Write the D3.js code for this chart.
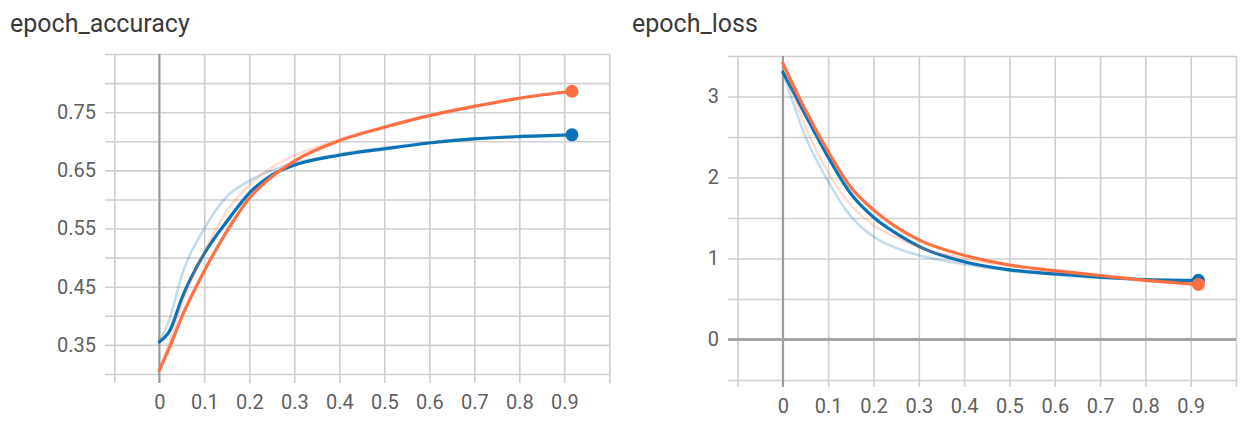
<!DOCTYPE html>
<html>
<head>
<meta charset="utf-8">
<script src="https://cdn.jsdelivr.net/npm/d3@7"></script>
<style>
  body { margin: 0; background: #fff; }
  svg text { font-family: Roboto, "Noto Sans", sans-serif; }
</style>
</head>
<body>
<svg id="chart" width="1243" height="423"></svg>
<script>
// ---- data ----
var accStep = [0, 0.025, 0.05, 0.1, 0.15, 0.2, 0.25, 0.3, 0.4, 0.5, 0.6, 0.7, 0.8, 0.917];
var accBlueSmooth   = [0.355, 0.377, 0.43, 0.507, 0.562, 0.611, 0.642, 0.659, 0.676, 0.687, 0.697, 0.704, 0.708, 0.711];
var accOrangeSmooth = [0.306, 0.35, 0.398, 0.477, 0.545, 0.602, 0.639, 0.666, 0.701, 0.724, 0.744, 0.760, 0.774, 0.786];
var accBlueRaw      = [0.355, 0.40, 0.47, 0.55, 0.605, 0.632, 0.650, 0.662, 0.678, 0.689, 0.698, 0.705, 0.709, 0.711];
var accOrangeRaw    = [0.306, 0.36, 0.42, 0.51, 0.58, 0.625, 0.655, 0.675, 0.703, 0.725, 0.745, 0.761, 0.775, 0.786];

var lossStep = [0, 0.05, 0.1, 0.15, 0.2, 0.25, 0.3, 0.4, 0.5, 0.6, 0.7, 0.8, 0.917];
var lossBlueSmooth   = [3.30, 2.77, 2.25, 1.80, 1.51, 1.31, 1.15, 0.96, 0.86, 0.81, 0.77, 0.74, 0.73];
var lossOrangeSmooth = [3.41, 2.83, 2.32, 1.88, 1.60, 1.39, 1.23, 1.04, 0.92, 0.85, 0.79, 0.73, 0.68];
var lossBlueRaw      = [3.30, 2.50, 1.95, 1.52, 1.27, 1.13, 1.04, 0.93, 0.85, 0.80, 0.76, 0.74, 0.73];
var lossOrangeRaw    = [3.41, 2.62, 2.06, 1.66, 1.41, 1.26, 1.14, 1.00, 0.91, 0.84, 0.78, 0.73, 0.68];

var xTicks = [0, 0.1, 0.2, 0.3, 0.4, 0.5, 0.6, 0.7, 0.8, 0.9];
var xGrid = [-0.1, 0, 0.1, 0.2, 0.3, 0.4, 0.5, 0.6, 0.7, 0.8, 0.9, 1.0];
var accYTicks = [0.35, 0.45, 0.55, 0.65, 0.75];
var accYGrid = [0.30, 0.35, 0.40, 0.45, 0.50, 0.55, 0.60, 0.65, 0.70, 0.75, 0.80, 0.85];
var lossYTicks = [0, 1, 2, 3];
var lossYGrid = [-0.5, 0, 0.5, 1, 1.5, 2, 2.5, 3, 3.5];

var BLUE = "#0b72b5", ORANGE = "#ff7043";
var svg = d3.select("#chart");

function drawPanel(o) {
  var g = svg.append("g");
  var x = d3.scaleLinear().domain([-0.1, 1.0]).range([o.left, o.right]);
  var y = d3.scaleLinear().domain(o.yDomain).range([o.bottom, o.top]);

  g.append("text")
    .attr("x", o.titleX).attr("y", 32)
    .attr("font-size", 25).attr("fill", "#3a3a3a")
    .text(o.title);

  // horizontal grid
  var hg = g.append("g")
    .attr("transform", "translate(" + o.right + ",0)")
    .call(d3.axisLeft(y).tickValues(o.yGrid).tickSize(o.right - o.gridLeft).tickFormat(""));
  // vertical grid
  var vg = g.append("g")
    .attr("transform", "translate(0," + o.top + ")")
    .call(d3.axisBottom(x).tickValues(xGrid).tickSize(o.gridBottom - o.top).tickFormat(""));
  [hg, vg].forEach(function(a) {
    a.select(".domain").remove();
    a.selectAll("line").attr("stroke", "#cfcfcf").attr("stroke-width", 1.6);
  });

  // zero axes
  g.append("line")
    .attr("x1", x(0)).attr("x2", x(0))
    .attr("y1", o.top).attr("y2", o.gridBottom)
    .attr("stroke", "#999").attr("stroke-width", 2);
  if (o.zeroLine) {
    g.append("line")
      .attr("x1", o.gridLeft).attr("x2", o.right)
      .attr("y1", y(0)).attr("y2", y(0))
      .attr("stroke", "#a5a5a5").attr("stroke-width", 3);
  }

  // tick labels
  var yl = g.append("g")
    .attr("transform", "translate(" + o.gridLeft + ",0)")
    .call(d3.axisLeft(y).tickValues(o.yTicks).tickSize(0).tickPadding(9).tickFormat(o.yFormat));
  var xl = g.append("g")
    .attr("transform", "translate(0," + o.gridBottom + ")")
    .call(d3.axisBottom(x).tickValues(xTicks).tickSize(0).tickPadding(12).tickFormat(function(d) { return d === 0 ? "0" : d3.format(".1f")(d); }));
  [yl, xl].forEach(function(a) {
    a.select(".domain").remove();
    a.selectAll("text").attr("font-size", 20).attr("fill", "#5f5f5f")
      .style("font-family", "Roboto, 'Noto Sans', sans-serif");
  });

  var line = d3.line()
    .x(function(d) { return x(d[0]); })
    .y(function(d) { return y(d[1]); })
    .curve(d3.curveMonotoneX);

  o.series.forEach(function(s) {
    var raw = o.steps.map(function(t, i) { return [t, s.raw[i]]; });
    var sm = o.steps.map(function(t, i) { return [t, s.smooth[i]]; });
    g.append("path").datum(raw)
      .attr("fill", "none").attr("stroke", s.color).attr("stroke-opacity", 0.25)
      .attr("stroke-width", 2.5).attr("stroke-linejoin", "round").attr("d", line);
    g.append("path").datum(sm)
      .attr("fill", "none").attr("stroke", s.color)
      .attr("stroke-width", 3.2).attr("stroke-linejoin", "round").attr("stroke-linecap", "round").attr("d", line);
    var last = sm[sm.length - 1];
    g.append("circle")
      .attr("cx", x(last[0])).attr("cy", y(last[1])).attr("r", 6.5)
      .attr("fill", s.color);
  });
}

drawPanel({
  title: "epoch_accuracy", titleX: 10,
  left: 114.3, right: 609.3, top: 54, bottom: 374,
  gridLeft: 105, gridBottom: 383,
  yDomain: [0.30, 0.85], yGrid: accYGrid, yTicks: accYTicks,
  yFormat: d3.format(".2f"),
  steps: accStep,
  series: [
    { color: BLUE, raw: accBlueRaw, smooth: accBlueSmooth },
    { color: ORANGE, raw: accOrangeRaw, smooth: accOrangeSmooth }
  ]
});

drawPanel({
  title: "epoch_loss", titleX: 632,
  left: 737.6, right: 1236, top: 56, bottom: 380,
  gridLeft: 728, gridBottom: 387, zeroLine: true,
  yDomain: [-0.5, 3.5], yGrid: lossYGrid, yTicks: lossYTicks,
  yFormat: d3.format("d"),
  steps: lossStep,
  series: [
    { color: BLUE, raw: lossBlueRaw, smooth: lossBlueSmooth },
    { color: ORANGE, raw: lossOrangeRaw, smooth: lossOrangeSmooth }
  ]
});
</script>
</body>
</html>
